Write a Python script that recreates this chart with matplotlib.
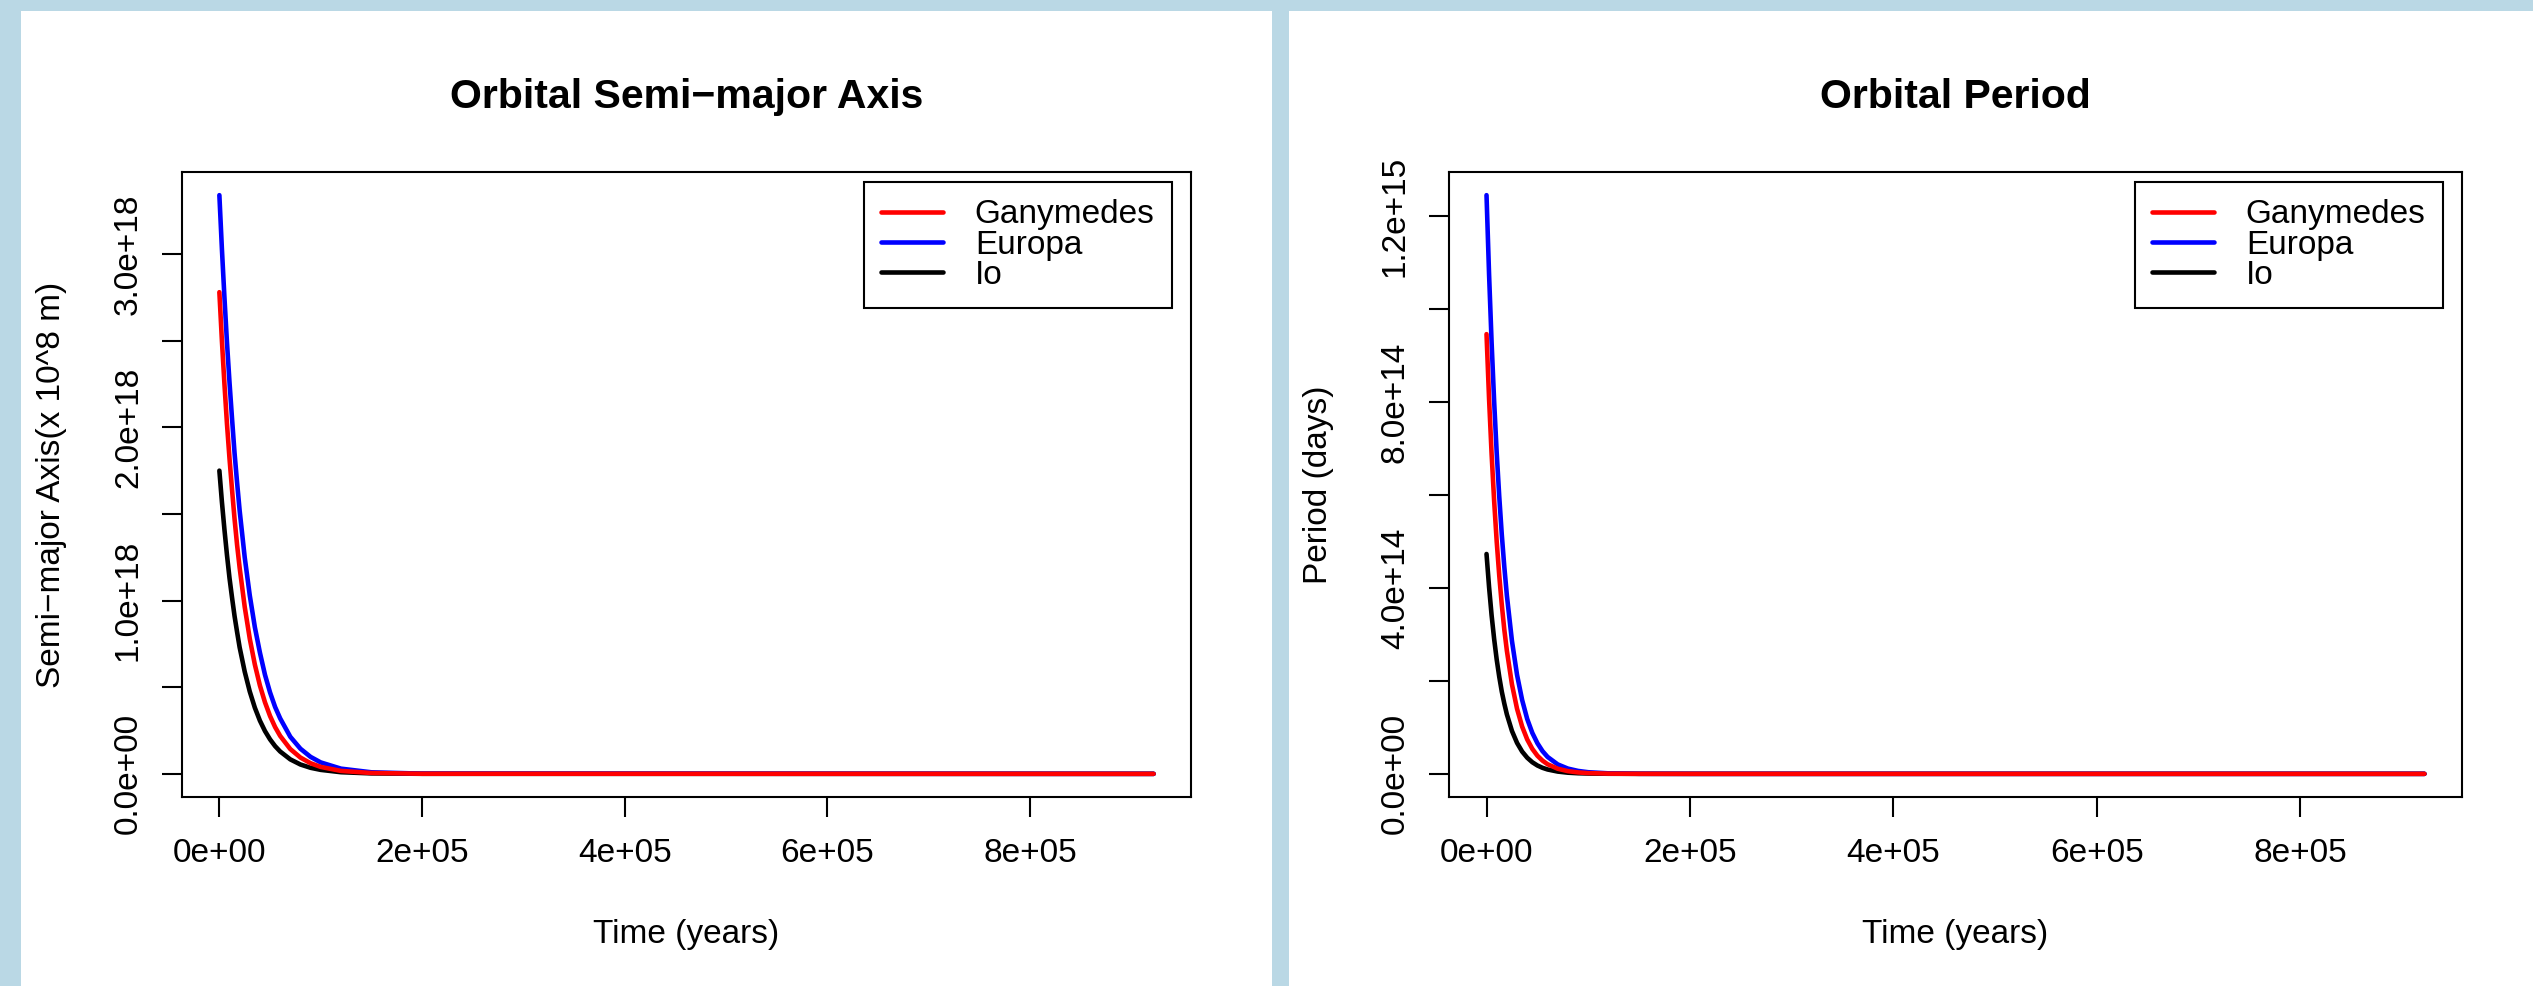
import matplotlib
matplotlib.use('Agg')
import matplotlib.pyplot as plt
from matplotlib.patches import Rectangle
import numpy as np

# ---------------- donnees ----------------
t_years = [0, 2500, 5000, 7500, 10000, 12500, 15000, 17500, 20000, 25000,
           30000, 35000, 40000, 45000, 50000, 55000, 60000, 70000, 80000,
           90000, 100000, 120000, 150000, 200000, 922000]

# demi grand axe (x 1e18)
a_ganymedes = [2.78, 2.50, 2.25, 2.02, 1.82, 1.64, 1.47, 1.32, 1.19, 0.964,
               0.78, 0.631, 0.51, 0.413, 0.334, 0.270, 0.219, 0.143, 0.094,
               0.0614, 0.040, 0.017, 0.005, 0.0006, 0.0]
a_europa = [3.34, 3.03, 2.75, 2.49, 2.26, 2.05, 1.85, 1.68, 1.52, 1.25,
            1.03, 0.847, 0.70, 0.572, 0.47, 0.386, 0.32, 0.214, 0.145,
            0.098, 0.066, 0.030, 0.009, 0.0013, 0.0]
a_io = [1.75, 1.57, 1.41, 1.263, 1.13, 1.017, 0.91, 0.818, 0.73, 0.590,
        0.475, 0.382, 0.307, 0.247, 0.199, 0.160, 0.129, 0.0835, 0.054,
        0.035, 0.023, 0.0095, 0.0026, 0.0003, 0.0]

# periode (x 1e15)
p_ganymedes = [0.946, 0.807, 0.688, 0.587, 0.500, 0.427, 0.364, 0.310, 0.265,
               0.1925, 0.140, 0.1018, 0.074, 0.0538, 0.039, 0.0285, 0.0207,
               0.011, 0.0058, 0.0031, 0.0016, 0.00045, 0.00007, 0.00001, 0.0]
p_europa = [1.245, 1.075, 0.928, 0.801, 0.691, 0.597, 0.515, 0.445, 0.384,
            0.286, 0.213, 0.159, 0.118, 0.0882, 0.066, 0.049, 0.0365,
            0.0203, 0.0113, 0.0063, 0.0035, 0.0011, 0.00018, 0.00001, 0.0]
p_io = [0.473, 0.402, 0.341, 0.290, 0.246, 0.209, 0.177, 0.151, 0.128,
        0.0923, 0.0666, 0.048, 0.0347, 0.025, 0.018, 0.013, 0.0094,
        0.0049, 0.0025, 0.0013, 0.0007, 0.0002, 0.00003, 0.0, 0.0]

x_ticks = [0, 2e5, 4e5, 6e5, 8e5]
x_labels = ['0e+00', '2e+05', '4e+05', '6e+05', '8e+05']
a_ticks = [0, 0.5e18, 1e18, 1.5e18, 2e18, 2.5e18, 3e18]
a_labels = ['0.0e+00', '', '1.0e+18', '', '2.0e+18', '', '3.0e+18']
p_ticks = [0, 2e14, 4e14, 6e14, 8e14, 1e15, 1.2e15]
p_labels = ['0.0e+00', '', '4.0e+14', '', '8.0e+14', '', '1.2e+15']

names = ['Ganymedes', 'Europa', 'Io']
colors = ['#FF0000', '#0000FF', '#000000']

# ---------------- mise en page ----------------
plt.rcParams['font.family'] = ['Liberation Sans', 'DejaVu Sans']
W, H = 2533, 986
fig = plt.figure(figsize=(W / 100, H / 100), dpi=100, facecolor='#BAD8E5')


def px_box(x0, y0, x1, y1):
    return [x0 / W, 1 - y1 / H, (x1 - x0) / W, (y1 - y0) / H]


for (x0, x1) in [(21, 1272), (1289, 2533)]:
    fig.patches.append(Rectangle((x0 / W, 0), (x1 - x0) / W, (H - 11) / H,
                                 transform=fig.transFigure, facecolor='white',
                                 edgecolor='none', zorder=-10))

ax1 = fig.add_axes(px_box(182, 172, 1191, 797))
ax2 = fig.add_axes(px_box(1449, 172, 2462, 797))

t = np.array(t_years)
# R affiche le tiret comme un signe moins
panels = [
    (ax1, [a_ganymedes, a_europa, a_io], 1e18, a_ticks, a_labels,
     'Orbital Semi\u2212major Axis', 'Semi\u2212major Axis(x 10^8 m)'),
    (ax2, [p_ganymedes, p_europa, p_io], 1e15, p_ticks, p_labels,
     'Orbital Period', 'Period (days)'),
]

for ax, series, scale, yt, yl, title, ylabel in panels:
    handles = {}
    # ordre de trace : Io, Europa puis Ganymedes au dessus
    for i in [2, 1, 0]:
        h, = ax.plot(t, np.array(series[i]) * scale, color=colors[i], lw=3.3,
                     solid_capstyle='round', solid_joinstyle='round',
                     label=names[i])
        handles[i] = h
    ax.margins(x=0.04, y=0.04)
    ax.set_xticks(x_ticks)
    ax.set_xticklabels(x_labels)
    ax.set_yticks(yt)
    ax.set_yticklabels(yl, rotation=90, va='center')
    ax.tick_params(axis='both', direction='out', length=14.4, width=1.5,
                   labelsize=24, color='black')
    ax.tick_params(axis='x', pad=15)
    ax.tick_params(axis='y', pad=13)
    for s in ax.spines.values():
        s.set_linewidth(1.5)
    ax.set_title(title, fontsize=29.5, fontweight='bold', pad=46)
    ax.set_xlabel('Time (years)', fontsize=24, labelpad=36)
    ax.set_ylabel(ylabel, fontsize=24, labelpad=33)

    bb = ax.get_position()
    ax_w = bb.width * W
    ax_h = bb.height * H
    leg = ax.legend(handles=[handles[0], handles[1], handles[2]], labels=names,
                    loc='upper right',
                    bbox_to_anchor=(1 - 19 / ax_w, 1 - 10 / ax_h),
                    borderaxespad=0, fontsize=24, handlelength=1.85,
                    handletextpad=0.95, labelspacing=-0.02, borderpad=0.52,
                    fancybox=False, framealpha=1, edgecolor='black')
    leg.get_frame().set_linewidth(1.5)

fig.savefig('out.png', dpi=100, facecolor=fig.get_facecolor())
